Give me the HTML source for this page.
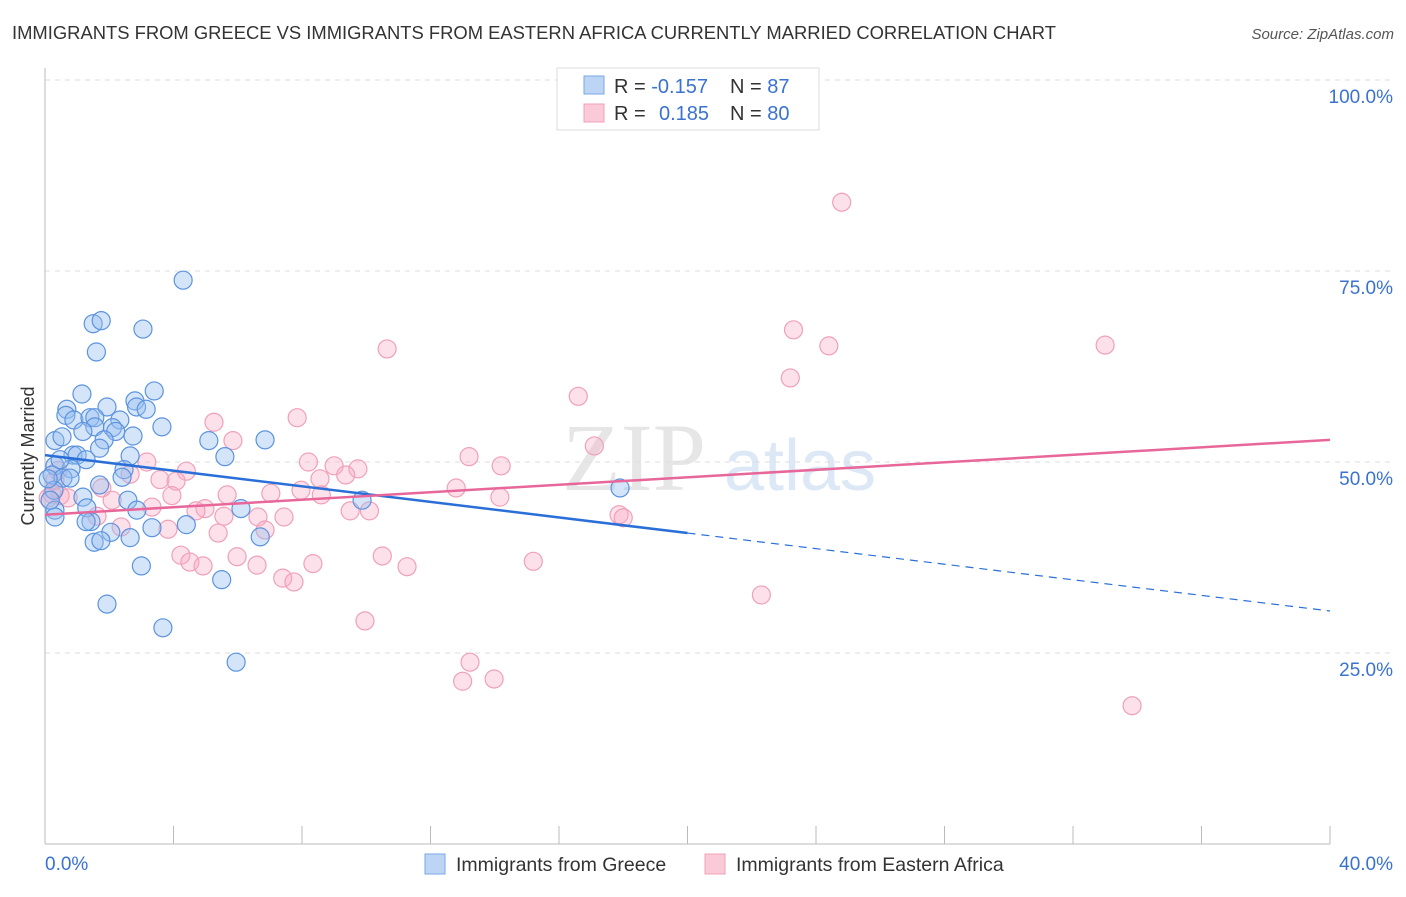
<!DOCTYPE html>
<html><head><meta charset="utf-8"><style>
body{margin:0;background:#fff;font-family:"Liberation Sans",sans-serif;}
</style></head><body>
<svg id="c" width="1406" height="892" xmlns="http://www.w3.org/2000/svg" font-family="Liberation Sans, sans-serif">
<text x="12" y="39" font-size="18.4" fill="#333">IMMIGRANTS FROM GREECE VS IMMIGRANTS FROM EASTERN AFRICA CURRENTLY MARRIED CORRELATION CHART</text>
<text x="1394" y="39" font-size="15" fill="#555" text-anchor="end" font-style="italic">Source: ZipAtlas.com</text>
<text x="634" y="490" font-size="96" fill="#e6e6e6" font-family="Liberation Serif, serif" text-anchor="middle">ZIP</text>
<text x="800" y="490" font-size="72" fill="#dce8f5" text-anchor="middle">atlas</text>
<text x="34" y="456" font-size="18" fill="#333" text-anchor="middle" transform="rotate(-90 34 456)">Currently Married</text>
<g id="grid"></g><g id="pts"></g><g id="trend"></g>
<g>
<rect x="557" y="68" width="262" height="62" fill="#fff" stroke="#ddd"/>
<rect x="584" y="76" width="20" height="18" fill="#bcd5f5" stroke="#7aa6e6"/>
<rect x="584" y="104" width="20" height="18" fill="#fbcad8" stroke="#f0a0b8"/>
<text x="614" y="93" font-size="20" fill="#333">R = <tspan fill="#3a72d0">-0.157</tspan></text>
<text x="730" y="93" font-size="20" fill="#333">N = <tspan fill="#3a72d0"> 87</tspan></text>
<text x="614" y="120" font-size="20" fill="#333">R = <tspan fill="#3a72d0" x="659">0.185</tspan></text>
<text x="730" y="120" font-size="20" fill="#333">N = <tspan fill="#3a72d0">80</tspan></text>
</g>
<g>
<rect x="425" y="854" width="20" height="20" fill="#bcd5f5" stroke="#7aa6e6"/>
<text x="456" y="871" font-size="19.5" fill="#333">Immigrants from Greece</text>
<rect x="705" y="854" width="20" height="20" fill="#fbcad8" stroke="#f0a0b8"/>
<text x="736" y="871" font-size="19.5" fill="#333">Immigrants from Eastern Africa</text>
</g>
<text x="45" y="870" font-size="19" fill="#3a72d0">0.0%</text>
<text x="1393" y="870" font-size="19" fill="#3a72d0" text-anchor="end">40.0%</text>
</svg>
<script>
const yTicks=[25,50,75,100];
const yTickLabels=["25.0%","50.0%","75.0%","100.0%"];
const greeceX=[4.3,1.5,1.75,3.05,1.6,1.15,3.4,2.8,2.85,3.15,1.93,0.68,0.65,0.9,1.4,1.55,2.33,1.55,2.1,2.2,1.18,3.64,2.74,0.31,0.53,1.84,5.1,6.85,1.7,0.87,1.0,2.65,5.6,1.28,0.31,0.81,2.46,0.22,0.56,0.78,2.4,0.28,1.7,1.18,2.58,9.87,1.3,0.31,2.86,6.1,17.9,0.31,1.43,1.28,4.4,3.33,2.05,6.7,2.65,1.53,1.74,3.0,5.5,1.93,3.67,5.95,0.16,0.47,0.1];
const greeceY=[73.8,68.1,68.5,67.4,64.4,58.9,59.3,58.0,57.2,56.9,57.2,56.9,56.1,55.5,55.8,55.8,55.5,54.6,54.5,54.0,54.0,54.6,53.4,52.8,53.3,52.9,52.8,52.9,51.8,50.9,50.9,50.8,50.7,50.3,49.5,49.1,49.0,48.3,47.9,47.9,48.0,46.3,47.0,45.4,45.0,45.0,44.0,43.7,43.7,43.9,46.6,42.8,42.2,42.2,41.8,41.4,40.8,40.2,40.1,39.5,39.7,36.4,34.6,31.4,28.3,23.8,45.0,50.3,47.8];
const africaX=[24.8,23.3,24.4,33.0,10.65,23.2,16.6,7.85,5.26,5.85,17.1,13.2,3.17,8.2,9.0,9.74,14.2,4.4,2.65,9.36,8.56,3.58,4.08,1.77,7.97,12.8,8.6,7.03,5.67,3.95,14.16,2.09,0.47,0.72,0.22,3.33,4.98,4.7,9.5,10.1,6.63,5.57,7.44,17.87,18.0,1.62,2.37,3.83,6.85,5.39,4.23,4.51,4.92,5.98,6.6,8.34,10.5,11.27,15.2,7.4,7.75,22.3,9.96,13.23,13.0,13.98,33.84,0.31,0.1,0.4];
const africaY=[84.0,67.3,65.2,65.3,64.8,61.0,58.6,55.8,55.2,52.8,52.1,50.7,50.0,50.0,49.5,49.1,49.5,48.8,48.4,48.3,47.8,47.7,47.5,46.6,46.3,46.6,45.7,45.9,45.7,45.6,45.4,45.0,45.6,45.3,45.8,44.1,43.9,43.6,43.6,43.6,42.8,42.9,42.8,43.1,42.7,42.9,41.5,41.2,41.1,40.7,37.8,36.9,36.4,37.6,36.5,36.7,37.7,36.3,37.0,34.8,34.3,32.6,29.2,23.8,21.3,21.6,18.1,47.6,45.3,48.9];
const greeceTrend=[50.9,30.5];
const africaTrend=[43.1,52.9];
const NS="http://www.w3.org/2000/svg";
const sx=v=>45+v/40*1285, sy=v=>844-v/100*764;
function mk(t,a,p){const e=document.createElementNS(NS,t);for(const k in a)e.setAttribute(k,a[k]);p.appendChild(e);return e;}
const grid=document.getElementById('grid');
yTicks.forEach((t,i)=>{
 const l=mk('line',{x1:45,x2:1393,y1:sy(t),y2:sy(t),stroke:'#ddd','stroke-dasharray':'5,5'},grid);
 
 
 const tx=mk('text',{x:1393,y:sy(t)+23,'font-size':19,fill:'#3a72d0','text-anchor':'end'},grid);
 tx.textContent=yTickLabels[i];
 
 
});
const ax=mk('line',{x1:45,x2:45,y1:68,y2:844,stroke:'#bbb'},grid);


const bx=mk('line',{x1:45,x2:1330,y1:844,y2:844,stroke:'#bbb'},grid);


for(let i=1;i<=10;i++){const t=mk('line',{x1:sx(i*4),x2:sx(i*4),y1:826,y2:844,stroke:'#bbb'},grid);
 
 }
const pts=document.getElementById('pts');
africaX.forEach((x,i)=>{const c=mk('circle',{cx:sx(x),cy:sy(africaY[i]),r:9,fill:'rgba(248,170,195,0.35)',stroke:'#f0a0b8','stroke-width':1.2},pts);
 
 });
greeceX.forEach((x,i)=>{const c=mk('circle',{cx:sx(x),cy:sy(greeceY[i]),r:9,fill:'rgba(150,190,240,0.4)',stroke:'#5b93e0','stroke-width':1.2},pts);
 
 });
const tr=document.getElementById('trend');
const gy=x=>greeceTrend[0]+(greeceTrend[1]-greeceTrend[0])*x/40;
const l1=mk('line',{x1:sx(0),y1:sy(gy(0)),x2:sx(20),y2:sy(gy(20)),stroke:'#2a6fd8','stroke-width':2.5},tr);


const l2=mk('line',{x1:sx(20),y1:sy(gy(20)),x2:sx(40),y2:sy(gy(40)),stroke:'#2a6fd8','stroke-width':1.2,'stroke-dasharray':'8,6'},tr);


const l3=mk('line',{x1:sx(0),y1:sy(africaTrend[0]),x2:sx(40),y2:sy(africaTrend[1]),stroke:'#e8679a','stroke-width':2.5},tr);


</script>
</body></html>
